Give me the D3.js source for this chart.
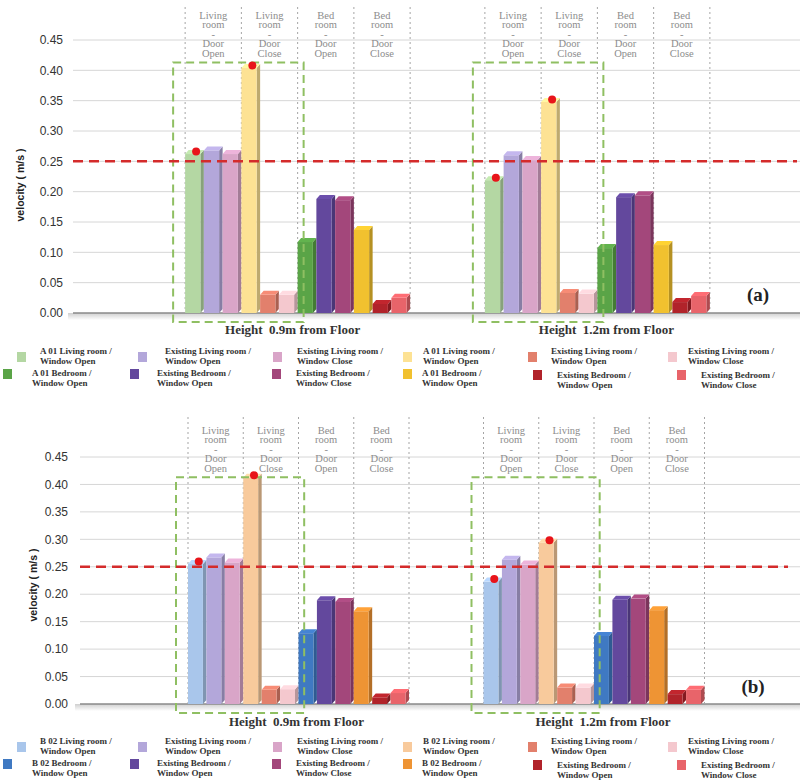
<!DOCTYPE html>
<html><head><meta charset="utf-8">
<script src="https://cdn.jsdelivr.net/npm/d3@7/dist/d3.min.js"></script>
<style>html,body{margin:0;padding:0;background:#fff}</style>
</head><body>
<svg id="chart" width="801" height="780"></svg>
<script>
// ---------- DATA ----------
const categories = ["Height\u00a0 0.9m from Floor", "Height\u00a0 1.2m from Floor"];
const zoneLabels = [
  ["Living", "room", "-", "Door", "Open"],
  ["Living", "room", "-", "Door", "Close"],
  ["Bed", "room", "-", "Door", "Open"],
  ["Bed", "room", "-", "Door", "Close"]
];
const seriesNamesA = [
  "A 01 Living room / Window Open", "Existing Living room / Window Open", "Existing Living room / Window Close",
  "A 01 Living room / Window Open", "Existing Living room / Window Open", "Existing Living room / Window Close",
  "A 01 Bedroom / Window Open", "Existing Bedroom / Window Open", "Existing Bedroom / Window Close",
  "A 01 Bedroom / Window Open", "Existing Bedroom / Window Open", "Existing Bedroom / Window Close"
];
const seriesNamesB = [
  "B 02 Living room / Window Open", "Existing Living room / Window Open", "Existing Living room / Window Close",
  "B 02 Living room / Window Open", "Existing Living room / Window Open", "Existing Living room / Window Close",
  "B 02 Bedroom / Window Open", "Existing Bedroom / Window Open", "Existing Bedroom / Window Close",
  "B 02 Bedroom / Window Open", "Existing Bedroom / Window Open", "Existing Bedroom / Window Close"
];
const colorsA = ["#b4d7a3","#b3a7da","#d9a5c8","#fde294","#e2806c","#f4c8ce","#5aa447","#63489d","#a3477b","#f1c12f","#b1232a","#e8646a"];
const colorsB = ["#a9c6eb","#b3a7da","#d9a5c8","#f8ca9c","#e2806c","#f4c8ce","#3f79c2","#63489d","#a3477b","#ee9434","#b1232a","#e8646a"];
// values per category (0.9m, 1.2m), series order as above
const valuesA09 = [0.262,0.268,0.262,0.404,0.030,0.030,0.117,0.188,0.186,0.137,0.015,0.025];
const valuesA12 = [0.219,0.260,0.252,0.348,0.033,0.032,0.107,0.191,0.194,0.112,0.018,0.028];
const valuesB09 = [0.255,0.267,0.258,0.412,0.026,0.027,0.129,0.189,0.186,0.169,0.012,0.020];
const valuesB12 = [0.223,0.263,0.254,0.294,0.030,0.030,0.124,0.190,0.192,0.171,0.018,0.026];
const yTicks = [0, 0.05, 0.10, 0.15, 0.20, 0.25, 0.30, 0.35, 0.40, 0.45];
const threshold = 0.25;
const markedSeries = [0, 3];
const yLabel = "velocity ( m/s )";

// ---------- LAYOUT ----------
const svg = d3.select("#chart");
const charts = [
  { names: seriesNamesA, colors: colorsA, values: [valuesA09, valuesA12], tag: "(a)",
    yTop: 40, yBase: 313, tickRight: 63, gridLeft: 73, gridRight: 800, thrRight: 797,
    yLabX: 20, yLabY: 185, headTop: 15, divTop: 7, xRange: [147.75, 747.25], groupW: 225,
    titleDx: [-5, 9], titleY: 334, tagX: 758, tagY: 301, legendDy: 0 },
  { names: seriesNamesB, colors: colorsB, values: [valuesB09, valuesB12], tag: "(b)",
    yTop: 457, yBase: 704, tickRight: 68, gridLeft: 80, gridRight: 800, thrRight: 788,
    yLabX: 33, yLabY: 585, headTop: 430, divTop: 417, xRange: [150.75, 741.75], groupW: 221,
    titleDx: [-2, 9], titleY: 726, tagX: 753, tagY: 693, legendDy: 390 }
];
const legendRow1 = { sw: [17,138,273,403,528,668], tx: [40,165,297,423,551,688], swY: 352, tY: 351 };
const legendRow2 = { sw: [3,130,272,403,533,677], tx: [32,157,296,422,557,701], swY: [369,369,369,369,370,370], tY: [373,373,373,373,375,375] };

const defs = svg.append("defs");
const fg = defs.append("linearGradient").attr("id","floor").attr("x1",0).attr("x2",0).attr("y1",0).attr("y2",1);
fg.append("stop").attr("offset",0).attr("stop-color","#cfcfcf");
fg.append("stop").attr("offset",1).attr("stop-color","#ffffff");

charts.forEach(c => {
  const g = svg.append("g");
  const y = d3.scaleLinear().domain([0, 0.45]).range([c.yBase, c.yTop]);
  const xg = d3.scaleBand().domain(categories).range(c.xRange);
  const xb = d3.scaleBand().domain(d3.range(12)).range([0, c.groupW]);
  const gStart = cat => xg(cat) + (xg.bandwidth() - c.groupW) / 2;

  // gridlines
  g.append("g").selectAll("line").data(yTicks.filter(t => t > 0)).join("line")
    .attr("x1", c.gridLeft).attr("x2", c.gridRight)
    .attr("y1", d => y(d)).attr("y2", d => y(d))
    .attr("stroke", "#d6d6d6").attr("stroke-width", 1);
  // tick labels
  g.append("g").selectAll("text").data(yTicks).join("text")
    .attr("x", c.tickRight).attr("y", d => y(d)).attr("dy", "0.35em")
    .attr("text-anchor", "end").attr("font-family", "Liberation Sans, Arial, sans-serif")
    .attr("font-size", 12).attr("fill", "#333").text(d => d3.format(".2f")(d));
  // y label
  g.append("text").attr("transform", `translate(${c.yLabX},${c.yLabY}) rotate(-90)`)
    .attr("text-anchor", "middle").attr("dy", "0.35em")
    .attr("font-family", "Liberation Sans, Arial, sans-serif").attr("font-weight", "bold")
    .attr("font-size", 10.5).attr("fill", "#222").text(yLabel);

  // floor
  g.append("rect").attr("x", c.gridLeft - 5).attr("y", c.yBase).attr("width", c.gridRight - c.gridLeft + 5)
    .attr("height", 7).attr("fill", "url(#floor)");
  g.append("line").attr("x1", c.gridLeft).attr("x2", c.gridRight).attr("y1", c.yBase).attr("y2", c.yBase)
    .attr("stroke", "#8a8a8a").attr("stroke-width", 1.6);

  categories.forEach((cat, ci) => {
    const x0 = gStart(cat);
    const zw = c.groupW / 4;
    // zone dividers
    g.append("g").selectAll("line").data(d3.range(5)).join("line")
      .attr("x1", k => x0 + k * zw).attr("x2", k => x0 + k * zw)
      .attr("y1", c.divTop).attr("y2", c.yBase)
      .attr("stroke", "#a5a5a5").attr("stroke-width", 1).attr("stroke-dasharray", "2,3");
    // zone headers
    zoneLabels.forEach((lines, k) => {
      const t = g.append("text").attr("text-anchor", "middle")
        .attr("font-family", "Liberation Serif, Times New Roman, serif").attr("font-size", 10.5)
        .attr("fill", "#8c8c8c");
      lines.forEach((ln, li) => {
        t.append("tspan").attr("x", x0 + (k + 0.5) * zw).attr("y", c.headTop + li * 9.6).attr("dy", "0.35em").text(ln);
      });
    });

    // bars
    const vals = c.values[ci];
    const bw = xb.bandwidth();
    const fw = bw - 3.5, dx = 3.5, dy = 4;
    const bars = g.append("g").selectAll("g").data(vals).join("g");
    bars.append("path") // side
      .attr("d", (v, i) => {
        const xl = x0 + xb(i) + fw, yt = y(v);
        return `M${xl},${yt}L${xl + dx},${yt - dy}L${xl + dx},${c.yBase - dy}L${xl},${c.yBase}Z`;
      })
      .attr("fill", (v, i) => d3.color(c.colors[i]).darker(0.8));
    bars.append("rect") // front
      .attr("x", (v, i) => x0 + xb(i)).attr("y", v => y(v))
      .attr("width", fw).attr("height", v => c.yBase - y(v))
      .attr("fill", (v, i) => c.colors[i]);
    bars.append("path") // top
      .attr("d", (v, i) => {
        const xl = x0 + xb(i), yt = y(v);
        return `M${xl},${yt}L${xl + dx},${yt - dy}L${xl + fw + dx},${yt - dy}L${xl + fw},${yt}Z`;
      })
      .attr("fill", (v, i) => d3.color(c.colors[i]).brighter(0.25));

    // green dashed box around living-room zone
    g.append("rect").attr("x", x0 - 12).attr("y", y(0.413))
      .attr("width", c.groupW * 0.58).attr("height", c.yBase + 9 - y(0.413))
      .attr("fill", "none").attr("stroke", "#8fbf62").attr("stroke-width", 2)
      .attr("stroke-dasharray", "8,5");

    // red markers
    g.append("g").selectAll("circle").data(markedSeries).join("circle")
      .attr("cx", i => x0 + xb(i) + fw * 0.72).attr("cy", i => y(vals[i]) - 2.5)
      .attr("r", 4).attr("fill", "#e8141a");

    // category title
    g.append("text").attr("x", x0 + c.groupW / 2 + c.titleDx[ci]).attr("y", c.titleY)
      .attr("text-anchor", "middle").attr("font-family", "Liberation Serif, Times New Roman, serif")
      .attr("font-weight", "bold").attr("font-size", 13).attr("fill", "#333")
      .style("white-space", "pre").text(cat);
  });

  // threshold
  g.append("line").attr("x1", c.gridLeft).attr("x2", c.thrRight)
    .attr("y1", y(threshold)).attr("y2", y(threshold))
    .attr("stroke", "#d42b2b").attr("stroke-width", 2.5).attr("stroke-dasharray", "10,6");

  // tag
  g.append("text").attr("x", c.tagX).attr("y", c.tagY).attr("text-anchor", "middle")
    .attr("font-family", "Liberation Serif, Times New Roman, serif").attr("font-weight", "bold")
    .attr("font-size", 19).attr("fill", "#222").text(c.tag);

  // legend
  const lg = g.append("g").attr("font-family", "Liberation Serif, Times New Roman, serif")
    .attr("font-weight", "bold").attr("font-size", 9).attr("fill", "#333");
  c.names.forEach((name, i) => {
    const row = i < 6 ? 0 : 1, col = i % 6;
    const parts = name.split(" / ");
    const swX = row === 0 ? legendRow1.sw[col] : legendRow2.sw[col];
    const txX = row === 0 ? legendRow1.tx[col] : legendRow2.tx[col];
    const swY = (row === 0 ? legendRow1.swY : legendRow2.swY[col]) + c.legendDy;
    const tY = (row === 0 ? legendRow1.tY : legendRow2.tY[col]) + c.legendDy;
    lg.append("rect").attr("x", swX).attr("y", swY).attr("width", 9).attr("height", 10).attr("fill", c.colors[i]);
    const t = lg.append("text");
    t.append("tspan").attr("x", txX).attr("y", tY).attr("dy", "0.35em").text(parts[0] + " /");
    t.append("tspan").attr("x", txX).attr("y", tY + 10).attr("dy", "0.35em").text(parts[1]);
  });
});
</script>
</body></html>
